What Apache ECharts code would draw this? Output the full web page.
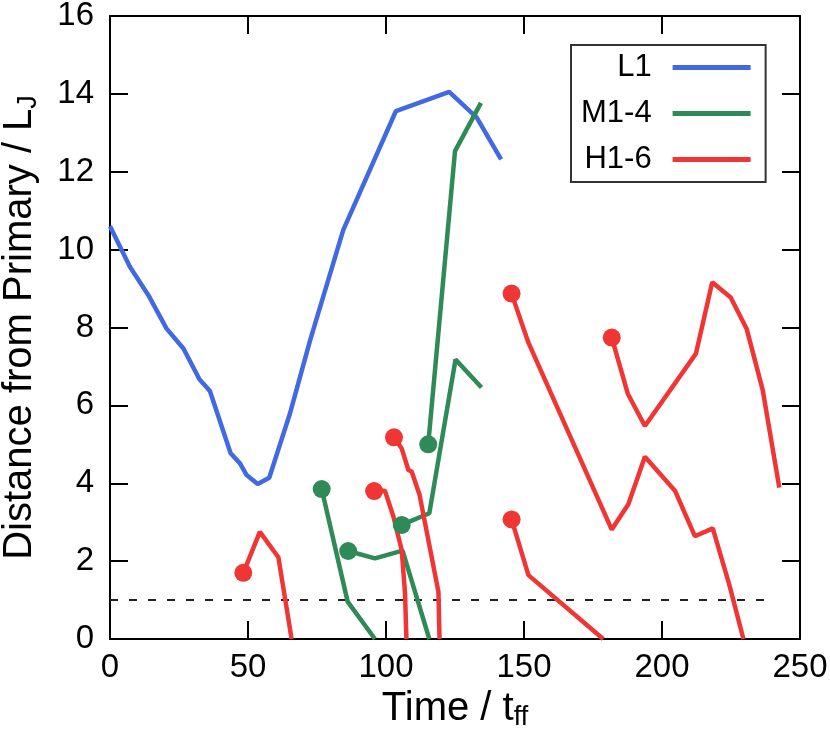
<!DOCTYPE html>
<html>
<head>
<meta charset="utf-8">
<script src="https://cdn.jsdelivr.net/npm/echarts@6/dist/echarts.min.js"></script>
<style>
  html, body { margin: 0; padding: 0; background: #fff; }
  #main { width: 830px; height: 738px; }
</style>
</head>
<body>
<div id="main"></div>
<script>
// L1 track
const l1X = [0, 7.2, 13.9, 20.5, 26.6, 32.4, 36.2, 43.7, 47.1, 49.5, 53.5, 57.7, 65.2, 72.5, 84.5, 103.6, 122.9, 132.9, 141.7]
const l1Y = [10.6, 9.56, 8.83, 7.97, 7.46, 6.67, 6.37, 4.77, 4.51, 4.21, 3.98, 4.14, 5.79, 7.67, 10.5, 13.56, 14.05, 13.39, 12.32]

// M1-4 tracks
const m1X = [76.7, 86.1, 96.0]
const m1Y = [3.85, 0.96, 0]
const m2X = [86.3, 96.0, 106.0, 115.7]
const m2Y = [2.26, 2.07, 2.27, 0]
const m3X = [105.7, 115.7, 125.2, 134.6]
const m3Y = [2.93, 3.23, 7.18, 6.46]
const m4X = [115.3, 125.0, 134.4]
const m4Y = [5.0, 12.53, 13.77]

// H1-6 tracks
const h1X = [48.3, 54.3, 61.0, 65.8]
const h1Y = [1.70, 2.75, 2.10, 0]
const h2X = [95.7, 99.6, 102.7, 105.7, 106.9, 107.4]
const h2Y = [3.80, 3.81, 3.14, 2.28, 1.17, 0]
const h3X = [102.9, 105.7, 108.1, 109.3, 112.1, 119.0, 119.4]
const h3Y = [5.18, 4.89, 4.34, 4.30, 3.72, 1.21, 0]
const h4X = [145.5, 151.6, 178.7]
const h4Y = [3.07, 1.64, 0]
const h5X = [145.5, 151.6, 181.8, 187.8, 193.8, 204.7, 211.9, 218.4, 224.4, 229.5]
const h5Y = [8.87, 7.61, 2.81, 3.46, 4.68, 3.81, 2.64, 2.84, 1.39, 0]
const h6X = [181.8, 187.6, 193.8, 212.3, 218.2, 224.9, 230.7, 236.5, 242.5]
const h6Y = [7.74, 6.3, 5.47, 7.33, 9.16, 8.77, 7.96, 6.39, 3.89]

// dashed reference line
const refX = [0, 239]
const refY = [1, 1]

const xTicks = [0, 50, 100, 150, 200, 250]
const yTicks = [0, 2, 4, 6, 8, 10, 12, 14, 16]

const legendNames = ['L1', 'M1-4', 'H1-6']
const colors = { 'L1': '#4169e1', 'M1-4': '#2e8b57', 'H1-6': '#f03535' }

const FONT = 'Liberation Sans'

// 一条轨迹，起点可选加圆点
function track(name, xs, ys, dot) {
  const data = xs.map((x, i) => {
    if (dot && i === 0) {
      return { value: [x, ys[i]], symbol: 'circle', symbolSize: 18 }
    }
    return [x, ys[i]]
  })
  return {
    name: name,
    type: 'line',
    data: data,
    symbol: 'none',
    showSymbol: true,
    lineStyle: { width: 4.5, color: colors[name] },
    itemStyle: { color: colors[name] },
    animation: false,
    z: 3
  }
}

const series = [
  track('L1', l1X, l1Y, false),
  track('M1-4', m1X, m1Y, true),
  track('M1-4', m2X, m2Y, true),
  track('M1-4', m3X, m3Y, true),
  track('M1-4', m4X, m4Y, true),
  track('H1-6', h1X, h1Y, true),
  track('H1-6', h2X, h2Y, true),
  track('H1-6', h3X, h3Y, true),
  track('H1-6', h4X, h4Y, true),
  track('H1-6', h5X, h5Y, true),
  track('H1-6', h6X, h6Y, true),
  {
    name: 'ref',
    type: 'line',
    data: refX.map((x, i) => [x, refY[i]]),
    symbol: 'none',
    lineStyle: { width: 2, color: '#222', type: [8, 11] },
    animation: false,
    z: 2
  }
]

// 四边都画框线和内向刻度
const axisCommon = {
  type: 'value',
  axisLine: { show: true, onZero: false, lineStyle: { color: '#000', width: 2 } },
  axisTick: { show: true, inside: true, length: 18, lineStyle: { color: '#000', width: 2 } },
  splitLine: { show: false }
}

const subStyle = { fontSize: 27, color: '#000', fontFamily: FONT, padding: [18, 0, 0, 0] }

const chart = echarts.init(document.getElementById('main'))
chart.setOption({
  backgroundColor: '#fff',
  textStyle: { fontFamily: FONT },
  grid: { left: 110, right: 30, top: 16, bottom: 99, containLabel: false, outerBoundsMode: 'none' },
  legend: {
    data: legendNames.map(n => ({ name: n, icon: 'rect' })),
    orient: 'vertical',
    left: 571,
    top: 45,
    align: 'right',
    itemWidth: 78,
    itemHeight: 5,
    itemGap: 15,
    padding: [7, 15, 7, 10],
    borderColor: '#333',
    borderWidth: 2,
    backgroundColor: '#fff',
    selectedMode: false,
    formatter: n => '{a|' + n + '}',
    textStyle: {
      rich: {
        a: { width: 70, align: 'right', fontSize: 31, lineHeight: 30, color: '#000', fontFamily: FONT, padding: [0, 16, 0, 0] }
      }
    }
  },
  xAxis: [
    Object.assign({}, axisCommon, {
      min: 0, max: 250, interval: 50,
      position: 'bottom',
      axisLabel: {
        fontSize: 33, color: '#000', margin: 12, fontFamily: FONT,
        formatter: v => (xTicks.indexOf(v) >= 0 ? String(v) : '')
      },
      name: 'Time / t{sub|ff}',
      nameLocation: 'middle',
      nameGap: 38,
      nameTextStyle: {
        fontSize: 40, color: '#000', fontFamily: FONT,
        rich: { sub: subStyle }
      }
    }),
    Object.assign({}, axisCommon, {
      min: 0, max: 250, interval: 50,
      position: 'top',
      axisLabel: { show: false }
    })
  ],
  yAxis: [
    Object.assign({}, axisCommon, {
      min: 0, max: 16, interval: 2,
      position: 'left',
      axisLabel: {
        fontSize: 33, color: '#000', margin: 16, fontFamily: FONT,
        formatter: v => (yTicks.indexOf(v) >= 0 ? String(v) : '')
      },
      name: 'Distance from Primary / L{sub|J}',
      nameLocation: 'middle',
      nameGap: 68,
      nameTextStyle: {
        fontSize: 40, color: '#000', fontFamily: FONT,
        rich: { sub: subStyle }
      }
    }),
    Object.assign({}, axisCommon, {
      min: 0, max: 16, interval: 2,
      position: 'right',
      axisLabel: { show: false }
    })
  ],
  series: series
})
</script>
</body>
</html>
